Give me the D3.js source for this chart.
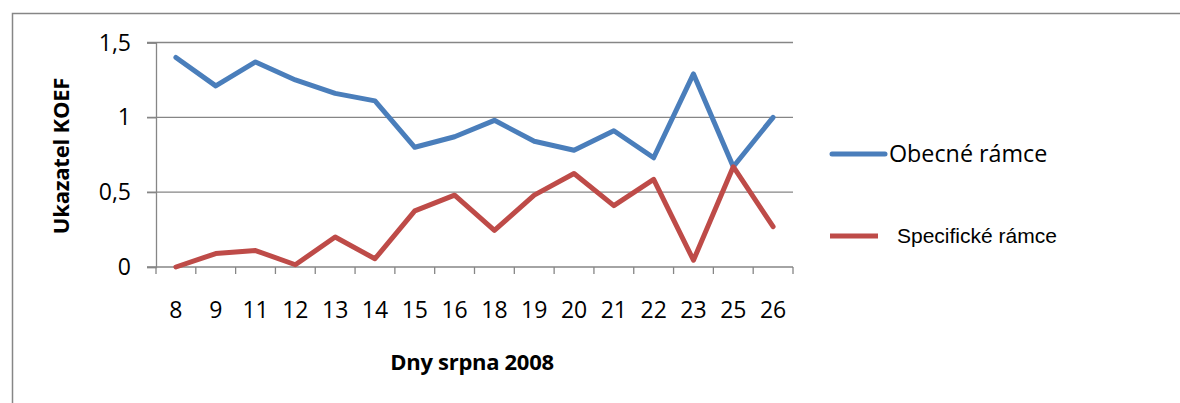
<!DOCTYPE html>
<html><head><meta charset="utf-8">
<script src="https://cdn.jsdelivr.net/npm/d3@7"></script>
<style>body{margin:0;background:#fff}svg{display:block}</style>
</head><body>
<svg id="c" width="1180" height="403"></svg>
<script>
const days = ["8","9","11","12","13","14","15","16","18","19","20","21","22","23","25","26"];
const obecne = [1.40,1.21,1.37,1.25,1.16,1.11,0.80,0.87,0.98,0.84,0.78,0.91,0.73,1.29,0.67,1.00];
const specificke = [0.00,0.09,0.11,0.015,0.20,0.055,0.375,0.48,0.245,0.48,0.625,0.41,0.585,0.045,0.67,0.27];
const yTicks = [0,0.5,1,1.5];
const yTickLabels = ["0","0,5","1","1,5"];
const seriesNames = ["Obecné rámce","Specifické rámce"];
const colors = ["#4A7EBB","#BE4B48"];

const svg = d3.select("#c");
const font = "'Open Sans', Lato, sans-serif";
// outer border
svg.append("rect").attr("x",12.5).attr("y",13.5).attr("width",1200).attr("height",500)
  .attr("fill","none").attr("stroke","#868686").attr("stroke-width",1.5);

const x = d3.scaleBand().domain(days).range([156,793]).paddingInner(0).paddingOuter(0);
const y = d3.scaleLinear().domain([0,1.5]).range([267,42.5]);

// gridlines
svg.append("g").selectAll("line").data(yTicks.filter(d=>d>0)).join("line")
  .attr("x1",147).attr("x2",793).attr("y1",d=>y(d)).attr("y2",d=>y(d))
  .attr("stroke","#868686").attr("stroke-width",1.3);

// y axis
const yAxis = d3.axisLeft(y).tickValues(yTicks).tickSize(9).tickPadding(9)
  .tickFormat((d,i)=>yTickLabels[i]);
const gy = svg.append("g").attr("transform","translate(156,0)").call(yAxis);
gy.select(".domain").attr("stroke","#868686").attr("stroke-width",1.3);
gy.selectAll(".tick line").attr("stroke","#868686").attr("stroke-width",1.3);
gy.selectAll("text").attr("font-family",font).attr("font-size",23).attr("fill","#000").attr("x",-25).attr("dy","0.33em");

// x axis
const gx = svg.append("g").attr("transform",`translate(0,${y(0)})`);
gx.append("line").attr("x1",147).attr("x2",793).attr("stroke","#868686").attr("stroke-width",1.3);
const bounds = days.map(d=>x(d)).concat([x(days[days.length-1])+x.bandwidth()]);
gx.selectAll("line.t").data(bounds).join("line").attr("class","t")
  .attr("x1",d=>d).attr("x2",d=>d).attr("y1",0).attr("y2",7)
  .attr("stroke","#868686").attr("stroke-width",1.3);
gx.selectAll("text").data(days).join("text")
  .attr("x",d=>x(d)+x.bandwidth()/2).attr("y",51)
  .attr("text-anchor","middle").attr("font-family",font).attr("font-size",23).attr("fill","#000")
  .text(d=>d);

// lines
const line = d3.line().x((d,i)=>x(days[i])+x.bandwidth()/2).y(d=>y(d));
[obecne,specificke].forEach((s,i)=>{
  svg.append("path").datum(s).attr("d",line).attr("fill","none")
    .attr("stroke",colors[i]).attr("stroke-width",5)
    .attr("stroke-linejoin","round").attr("stroke-linecap","round");
});

// axis titles
svg.append("text").attr("x",472).attr("y",370).attr("text-anchor","middle")
  .attr("font-family",font).attr("font-weight","bold").attr("font-size",22).attr("letter-spacing",-0.3).text("Dny srpna 2008");
svg.append("text").attr("transform","translate(69,156) rotate(-90)").attr("text-anchor","middle")
  .attr("font-family",font).attr("font-weight","bold").attr("font-size",22).attr("letter-spacing",-0.2).text("Ukazatel KOEF");

// legend
svg.append("line").attr("x1",832).attr("x2",885).attr("y1",154).attr("y2",154)
  .attr("stroke",colors[0]).attr("stroke-width",5).attr("stroke-linecap","round");
svg.append("text").attr("x",889).attr("y",162).attr("font-family",font).attr("font-size",23.3).text(seriesNames[0]);
svg.append("line").attr("x1",830).attr("x2",878).attr("y1",236).attr("y2",236)
  .attr("stroke",colors[1]).attr("stroke-width",5);
svg.append("text").attr("x",897).attr("y",243).attr("font-family","'Liberation Sans', Arial, sans-serif").attr("font-size",21).text(seriesNames[1]);
</script>
</body></html>
